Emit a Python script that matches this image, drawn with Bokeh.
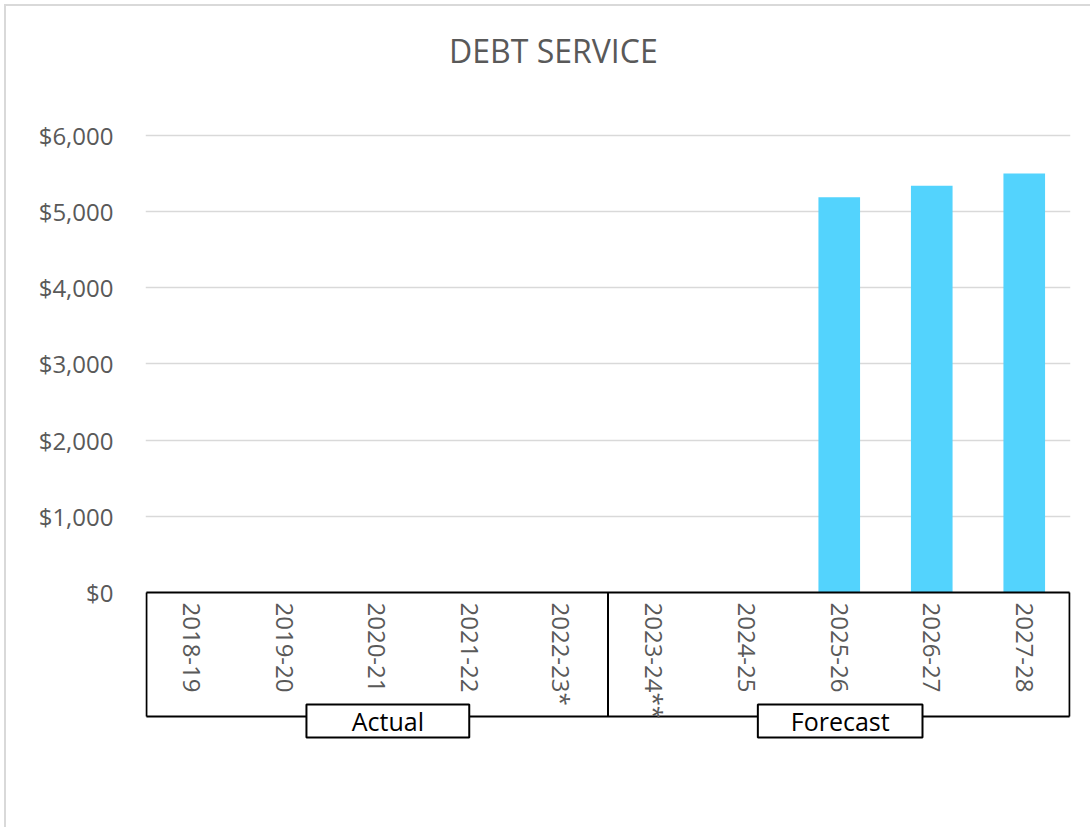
import math
from bokeh.plotting import figure
from bokeh.models import FactorRange, Range1d, FixedTicker, NumeralTickFormatter
from bokeh.core.properties import value
from bokeh.embed import file_html
from bokeh.resources import INLINE

# ---- data ----
categories = ["2018-19", "2019-20", "2020-21", "2021-22", "2022-23*",
              "2023-24**", "2024-25", "2025-26", "2026-27", "2027-28"]
debt_service = [0, 0, 0, 0, 0, 0, 0, 5190, 5340, 5500]
y_ticks = [0, 1000, 2000, 3000, 4000, 5000, 6000]
group_labels = ["Actual", "Forecast"]
title_text = ["DEBT SERVICE"]

TEXT = "#595959"
FONT = "Open Sans"
BAR = "#53D3FD"

p = figure(width=1086, height=823, output_backend="svg", toolbar_location=None,
           x_range=FactorRange(factors=categories, range_padding=0),
           y_range=Range1d(-2009, 7641),
           min_border_left=139, min_border_right=22,
           min_border_top=4, min_border_bottom=84)
p.styles = {"margin-left": "4px", "margin-top": "4px",
            "border-left": "2px solid #D9D9D9", "border-top": "2px solid #D9D9D9"}
p.outline_line_color = None
p.background_fill_color = "white"
p.border_fill_color = "white"

p.xaxis.visible = False
p.xgrid.visible = False

yax = p.yaxis[0]
yax.ticker = FixedTicker(ticks=y_ticks)
yax.formatter = NumeralTickFormatter(format="$0,0")
yax.axis_line_color = None
yax.major_tick_line_color = None
yax.minor_tick_line_color = None
yax.major_label_standoff = 26
yax.major_label_text_font = FONT
yax.major_label_text_font_size = "24px"
yax.major_label_text_color = TEXT

p.ygrid.ticker = FixedTicker(ticks=[t for t in y_ticks if t > 0])
p.ygrid.grid_line_color = "#D9D9D9"
p.ygrid.grid_line_width = 1.5

# bars (slightly left of the category centre, as in the reference)
p.vbar(x=categories, top=debt_service, width=0.45, fill_color=BAR, line_color=None)

# bottom category box
box_bottom = -1628
right_edge = 9.99
p.segment(x0=[0.01, 0.01, 0.01, right_edge, 5], y0=[0, 0, box_bottom, 0, 0],
          x1=[right_edge, 0.01, right_edge, right_edge, 5],
          y1=[0, box_bottom, box_bottom, box_bottom, box_bottom],
          line_color="black", line_width=2)

# category labels (rotated)
p.text(x=categories, y=[-131] * len(categories), text=categories,
       angle=-math.pi / 2, text_align="left", text_baseline="middle",
       text_font=value(FONT), text_font_size="24px", text_color=TEXT)

# group label boxes
p.quad(left=[1.74, 6.62], right=[3.50, 8.40], top=[-1470, -1470], bottom=[-1904, -1904],
       fill_color="white", line_color="black", line_width=2)
p.text(x=[2.62, 7.51], y=[-1687, -1687], text=group_labels,
       text_align="center", text_baseline="middle",
       text_font=value(FONT), text_font_size="25px", text_color="black")

# title
p.text(x=[4.41], y=[7122], text=title_text, text_align="center",
       text_baseline="middle", text_font=value(FONT), text_font_size="32px",
       text_color=TEXT)

open("out.html", "w").write(file_html(p, INLINE))
